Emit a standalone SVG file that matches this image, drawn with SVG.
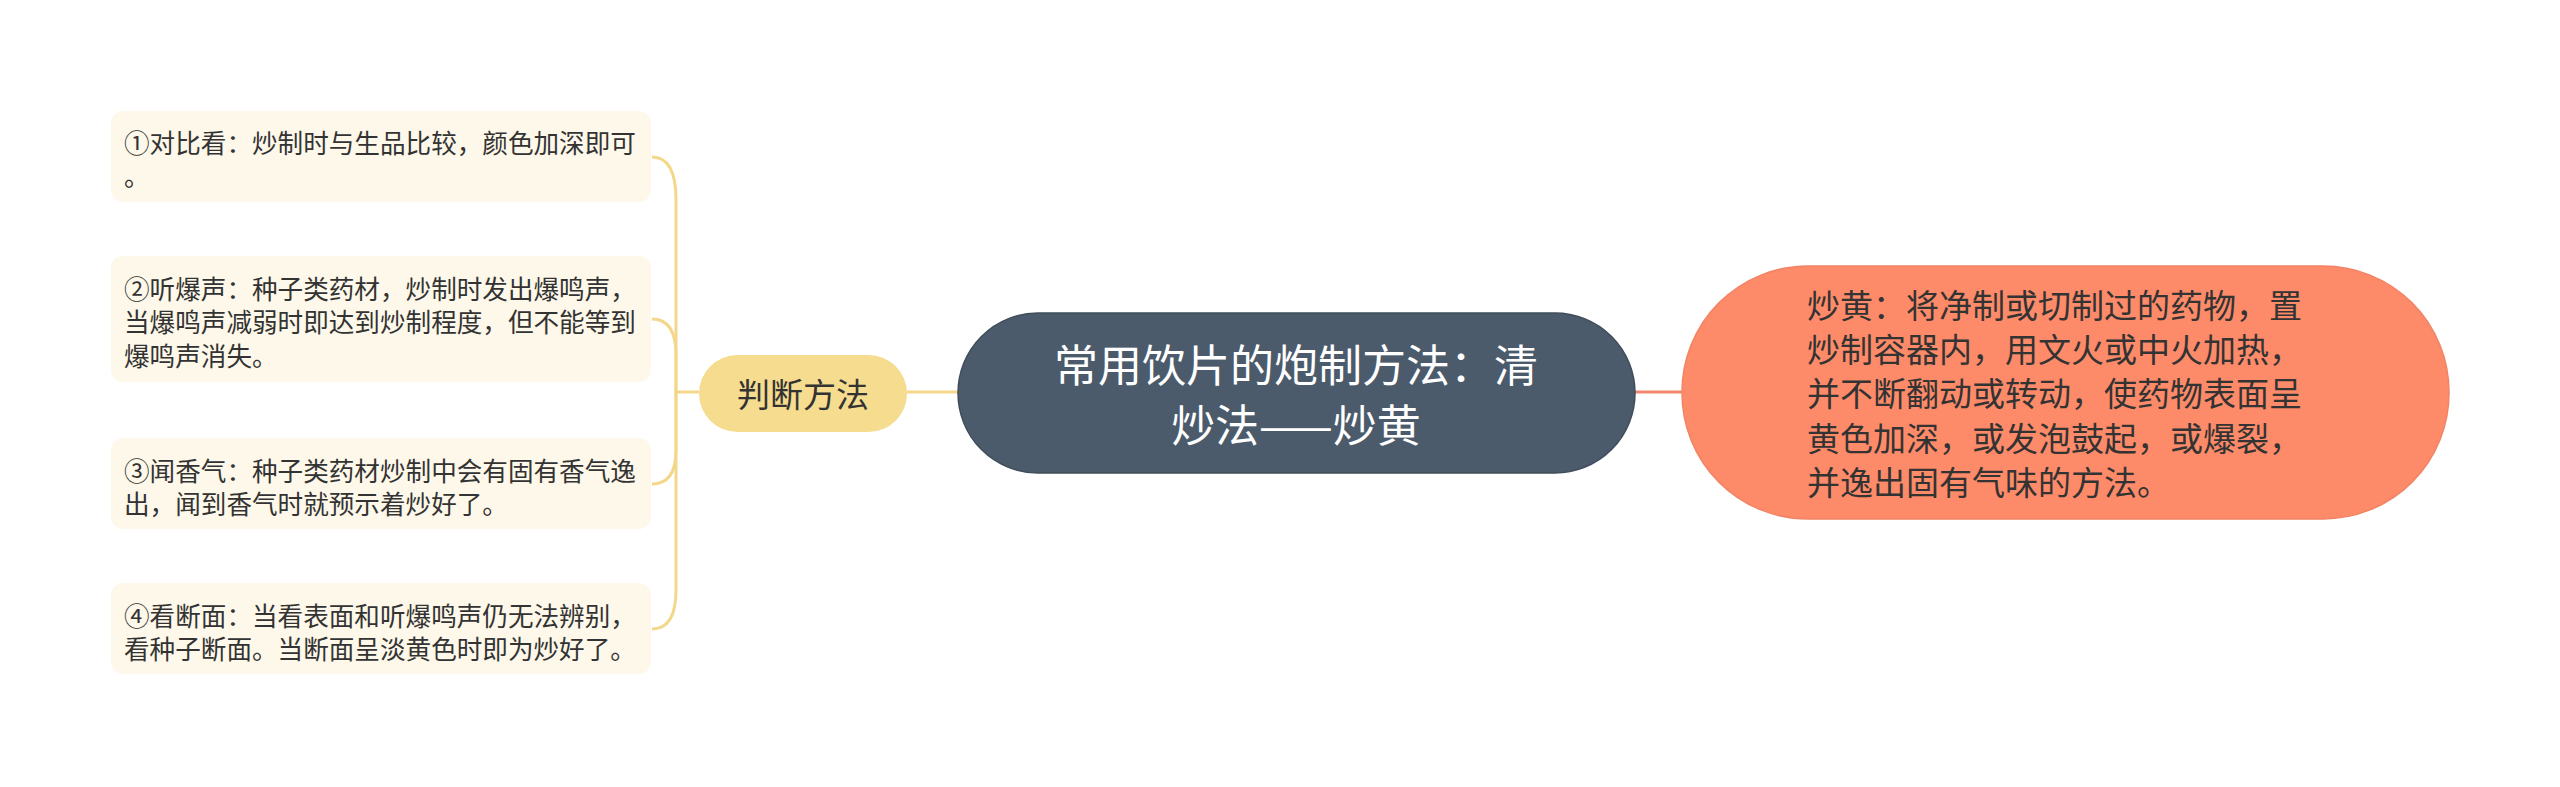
<svg xmlns="http://www.w3.org/2000/svg" width="2560" height="787" viewBox="0 0 2560 787">
<style>
text{font-family:"Noto Sans CJK SC","Liberation Sans",sans-serif;dominant-baseline:central}
.leaf rect{fill:#fdf8e9}
.leaf text{font-size:25.6px;fill:#333}
.gold{fill:none;stroke:#f3d88b;stroke-width:3}
.coral{fill:none;stroke:#f2876a;stroke-width:3}
</style>
<rect width="2560" height="787" fill="#ffffff"/>
<g id="connectors">
<path class="gold" d="M907 392 L958 392"/>
<path class="gold" d="M699 392 L676 392"/>
<path class="gold" d="M676 392 L676 200 Q676 157 652 157"/>
<path class="gold" d="M676 392 L676 355 Q676 319 652 319"/>
<path class="gold" d="M676 392 L676 450 Q676 484 652 484"/>
<path class="gold" d="M676 392 L676 590 Q676 629 652 629"/>
<path class="coral" d="M1635 392 L1682 392"/>
</g>
<g id="center">
<rect x="958" y="313" width="677" height="160" rx="80" fill="#4b5b6b" stroke="#3f4d5b" stroke-width="1.5"/>
<text x="1296" y="363" font-size="44" fill="#ffffff" text-anchor="middle">常用饮片的炮制方法：清</text>
<text x="1296" y="423" font-size="44" fill="#ffffff" text-anchor="middle">炒法——炒黄</text>
</g>
<g id="right">
<rect x="1682" y="266" width="767" height="253" rx="126" fill="#fd8a68" stroke="#f28466" stroke-width="1.5"/>
<g font-size="33" fill="#333">
<text x="1807" y="304">炒黄：将净制或切制过的药物，置</text>
<text x="1807" y="348">炒制容器内，用文火或中火加热，</text>
<text x="1807" y="392">并不断翻动或转动，使药物表面呈</text>
<text x="1807" y="437">黄色加深，或发泡鼓起，或爆裂，</text>
<text x="1807" y="481">并逸出固有气味的方法。</text>
</g>
</g>
<g id="judge">
<rect x="699" y="355" width="208" height="77" rx="38.5" fill="#f5dc8e"/>
<text x="803" y="393" font-size="33" fill="#333" text-anchor="middle">判断方法</text>
</g>
<g id="leaf1" class="leaf">
<rect x="111" y="111" width="540" height="91" rx="12"/>
<text x="124" y="141">①对比看：炒制时与生品比较，颜色加深即可</text>
<text x="124" y="174">。</text>
</g>
<g id="leaf2" class="leaf">
<rect x="111" y="256" width="540" height="126" rx="12"/>
<text x="124" y="287">②听爆声：种子类药材，炒制时发出爆鸣声，</text>
<text x="124" y="320">当爆鸣声减弱时即达到炒制程度，但不能等到</text>
<text x="124" y="354">爆鸣声消失。</text>
</g>
<g id="leaf3" class="leaf">
<rect x="111" y="438" width="540" height="91" rx="12"/>
<text x="124" y="469">③闻香气：种子类药材炒制中会有固有香气逸</text>
<text x="124" y="502">出，闻到香气时就预示着炒好了。</text>
</g>
<g id="leaf4" class="leaf">
<rect x="111" y="583" width="540" height="91" rx="12"/>
<text x="124" y="614">④看断面：当看表面和听爆鸣声仍无法辨别，</text>
<text x="124" y="647">看种子断面。当断面呈淡黄色时即为炒好了。</text>
</g>
</svg>
